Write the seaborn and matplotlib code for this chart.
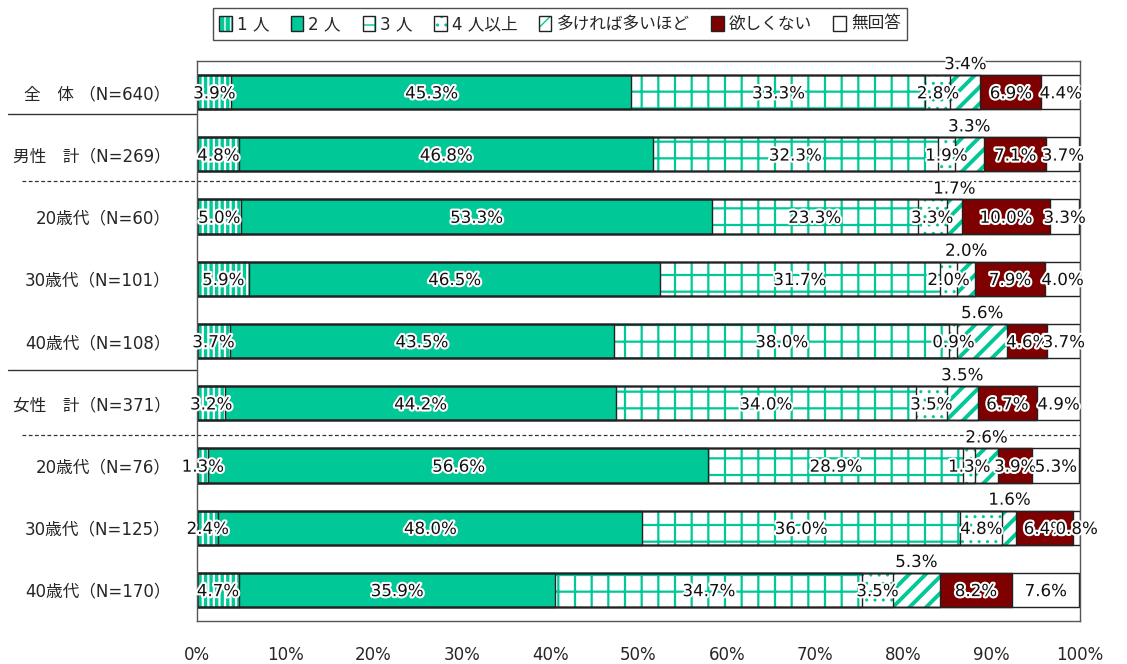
import numpy as np
import pandas as pd
import matplotlib
matplotlib.use("Agg")
import matplotlib.pyplot as plt
import matplotlib.patheffects as pe
from matplotlib.patches import Patch
import matplotlib.transforms as mtransforms
import seaborn as sns

# data
categories = ["全　体 （N=640）", "男性　計（N=269）", "20歳代（N=60）", "30歳代（N=101）",
              "40歳代（N=108）", "女性　計（N=371）", "20歳代（N=76）", "30歳代（N=125）",
              "40歳代（N=170）"]
series = ["1 人", "2 人", "3 人", "4 人以上", "多ければ多いほど", "欲しくない", "無回答"]
one = [3.9, 4.8, 5.0, 5.9, 3.7, 3.2, 1.3, 2.4, 4.7]
two = [45.3, 46.8, 53.3, 46.5, 43.5, 44.2, 56.6, 48.0, 35.9]
three = [33.3, 32.3, 23.3, 31.7, 38.0, 34.0, 28.9, 36.0, 34.7]
four_plus = [2.8, 1.9, 3.3, 2.0, 0.9, 3.5, 1.3, 4.8, 3.5]
the_more = [3.4, 3.3, 1.7, 2.0, 5.6, 3.5, 2.6, 1.6, 5.3]
none_wanted = [6.9, 7.1, 10.0, 7.9, 4.6, 6.7, 3.9, 6.4, 8.2]
no_answer = [4.4, 3.7, 3.3, 4.0, 3.7, 4.9, 5.3, 0.8, 7.6]
xticks = [0, 10, 20, 30, 40, 50, 60, 70, 80, 90, 100]

teal = "#00C896"
darkred = "#7F0000"
# (facecolor, hatch, hatch colour, hatch linewidth)
styles = [
    (teal, "|||", "white", 1.6),
    (teal, None, teal, 1.0),
    ("white", "+", teal, 1.6),
    ("white", "..", teal, 1.0),
    ("white", "//", teal, 2.8),
    (darkred, None, darkred, 1.0),
    ("white", None, "white", 1.0),
]

df = pd.DataFrame(dict(zip(series, [one, two, three, four_plus, the_more, none_wanted, no_answer])),
                  index=categories)
cum = df.cumsum(axis=1)

sns.set_theme(style="white")
plt.rcParams['font.family'] = ['DejaVu Sans', 'Noto Sans CJK JP']

fig = plt.figure(figsize=(11.27, 6.64), dpi=100)
ax = fig.add_axes([197 / 1127, 1 - 621 / 664, 883 / 1127, 560 / 664])

bar_h = 0.55
# draw cumulative layers from the longest to the shortest
for i in range(len(series) - 1, -1, -1):
    fc, hatch, hc, hlw = styles[i]
    with plt.rc_context({"hatch.linewidth": hlw}):
        sns.barplot(x=cum.iloc[:, i].values, y=categories, orient="h", color=fc,
                    saturation=1, width=bar_h, errorbar=None, ax=ax,
                    hatch=hatch, edgecolor=hc, linewidth=0)
        for p in ax.patches[-len(categories):]:
            if hasattr(p, "set_hatch_linewidth"):
                p.set_hatch_linewidth(hlw)
# outlines
for i in range(len(series) - 1, -1, -1):
    sns.barplot(x=cum.iloc[:, i].values, y=categories, orient="h", fill=False,
                width=bar_h, errorbar=None, ax=ax, color="#222222", linewidth=1.0)

halo = [pe.withStroke(linewidth=3, foreground="white")]
for r, cat in enumerate(categories):
    left = 0
    for j, s in enumerate(series):
        v = df.loc[cat, s]
        xc = left + v / 2
        if j == 4:
            ax.text(xc, r - bar_h / 2 - 0.03, f"{v:.1f}%", ha="center", va="bottom",
                    fontsize=12, color="#111111", path_effects=halo, clip_on=False)
        else:
            ax.text(xc, r + 0.02, f"{v:.1f}%", ha="center", va="center",
                    fontsize=12, color="#111111", path_effects=halo, clip_on=False)
        left += v

ax.set_xlim(0, 100)
ax.set_ylim(len(categories) - 0.5, -0.5)
ax.set_xticks(xticks)
ax.set_xticklabels([f"{t}%" for t in xticks], fontsize=12)
ax.tick_params(axis="x", length=0, pad=18)
ax.tick_params(axis="y", length=0, pad=19, labelsize=12)
ax.set_xlabel("")
ax.set_ylabel("")
for s in ax.spines.values():
    s.set_color("#555555")
    s.set_linewidth(1.0)

# group separators
trans = mtransforms.blended_transform_factory(ax.transAxes, ax.transData)
for y in [0.35, 4.47]:
    ax.plot([-0.214, 0], [y, y], transform=trans, color="#333333", lw=1.0, clip_on=False)
for y in [1.43, 5.51]:
    ax.plot([-0.198, 1.0], [y, y], transform=trans, color="#333333", lw=0.9,
            ls=(0, (3, 2)), clip_on=False)

# legend
handles = []
for fc, hatch, hc, hlw in styles:
    with plt.rc_context({"hatch.linewidth": 1.2}):
        fill = Patch(facecolor=fc, hatch=hatch, edgecolor=hc, linewidth=0)
    outline = Patch(facecolor="none", edgecolor="#222222", linewidth=1.0)
    handles.append((fill, outline))
leg = fig.legend(handles, series, loc="center", bbox_to_anchor=(560 / 1127, 1 - 24 / 664),
                 ncol=7, fontsize=12, frameon=True, fancybox=False, handlelength=0.75,
                 handleheight=1.0, handletextpad=0.3, columnspacing=1.3,
                 borderpad=0.4)
leg.get_frame().set_edgecolor("#222222")
leg.get_frame().set_linewidth(1.0)

fig.savefig("out.png", dpi=100)
